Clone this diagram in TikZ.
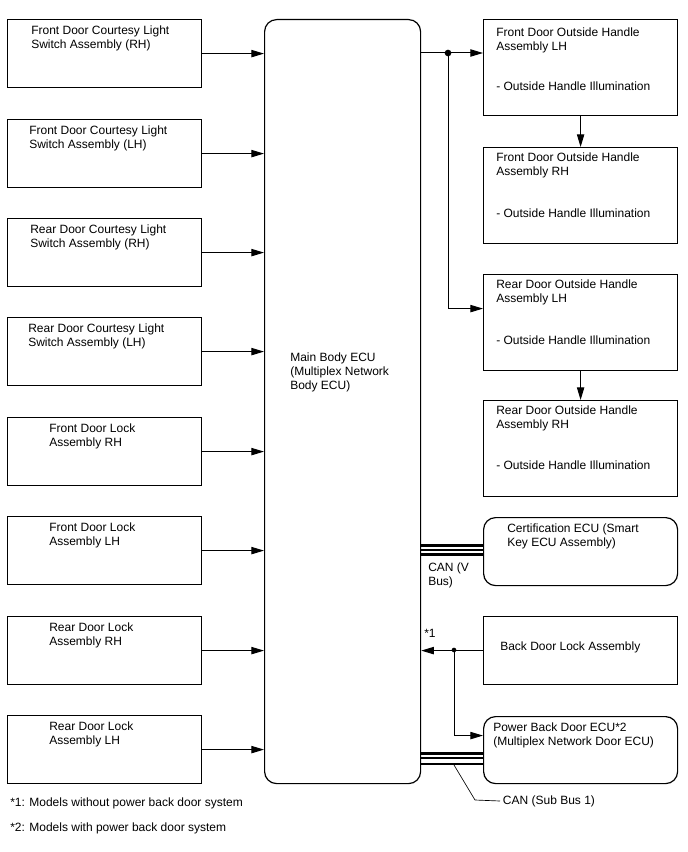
\documentclass[tikz,border=0pt]{standalone}
\usepackage{fontspec}
\setmainfont{Liberation Sans}
\usetikzlibrary{arrows.meta,positioning}
\begin{document}
\begin{tikzpicture}[x=0.75pt,y=-0.75pt,
    box/.style={draw,line width=0.9pt,anchor=north west,inner sep=0pt,minimum width=145.5pt,minimum height=51pt},
    rbox/.style={box,minimum height=72pt},
    rndbox/.style={box,rounded corners=9pt},
    txt/.style={anchor=north west,inner sep=0pt,align=left,font=\fontsize{9}{10.5}\selectfont},
    arr/.style={-{Triangle[length=9.5pt,width=5.5pt]},line width=0.75pt},
    bus/.style={line width=1.6pt},
    dot/.style={circle,fill,inner sep=0pt,minimum size=#1}]
    \useasboundingbox (0,0) rectangle (688,852);
    % main ECU
    \node [box,rounded corners=9pt,minimum width=117pt,minimum height=573pt] (main) at (264,19) {};
    \node [txt] (maintxt) at (290,353) {Main Body ECU\\(Multiplex Network\\Body ECU)};
    % switches and locks on the left
    \foreach \i/\yy/\dx/\txt in {1/19/24/{Front Door Courtesy Light\\Switch Assembly (RH)},
        2/119/22/{Front Door Courtesy Light\\Switch Assembly (LH)},
        3/218/23/{Rear Door Courtesy Light\\Switch Assembly (RH)},
        4/317/21/{Rear Door Courtesy Light\\Switch Assembly (LH)},
        5/417/42/{Front Door Lock\\Assembly RH},
        6/516/42/{Front Door Lock\\Assembly LH},
        7/616/42/{Rear Door Lock\\Assembly RH},
        8/715/42/{Rear Door Lock\\Assembly LH}} {
        \node [box] (l\i) at (7,\yy) {};
        \node [txt] (lt\i) at ([shift={(\dx,7)}]l\i.north west) {\txt};
        \draw [arr] (l\i.east) -- (l\i.east -| main.west);
    }
    % outside handles
    \node [rbox] (r1) at (483,19) {};
    \node [txt] (rt1) at (496,28) {Front Door Outside Handle\\Assembly LH\\[19.5pt]- Outside Handle Illumination};
    \node [rbox] (r2) at (483,147) {};
    \node [txt] (rt2) at (496,153) {Front Door Outside Handle\\Assembly RH\\[21pt]- Outside Handle Illumination};
    \node [rbox] (r3) at (483,274) {};
    \node [txt] (rt3) at (496,280) {Rear Door Outside Handle\\Assembly LH\\[21pt]- Outside Handle Illumination};
    \node [rbox] (r4) at (483,400) {};
    \node [txt] (rt4) at (496,406) {Rear Door Outside Handle\\Assembly RH\\[20pt]- Outside Handle Illumination};
    \node [dot=5pt] (j1) at (448,53) {};
    \draw [arr] (main.east |- j1) -- (r1.west |- j1);
    \draw [arr] (j1.center) |- ([yshift=10.5pt]r3.west);
    \draw [arr] (r1.south) -- (r2.north);
    \draw [arr] (r3.south) -- (r4.north);
    % certification ECU on CAN (V Bus)
    \node [rndbox] (cert) at (483,517) {};
    \node [txt] (certtxt) at (507,524) {Certification ECU (Smart\\Key ECU Assembly)};
    \foreach \yy in {545.5,549.8,554.5}
        \draw [bus] (main.east |- 0,\yy) -- (cert.west |- 0,\yy);
    \node [txt] (canv) at (428,563) {CAN (V\\Bus)};
    % back door
    \node [box] (bdl) at (483,616) {};
    \node [txt] (bdltxt) at (500,642) {Back Door Lock Assembly};
    \node [txt] (n1) at (424,629) {*1};
    \node [dot=3.5pt] (j2) at (454,650) {};
    \draw [arr] (bdl.west) -- (main.east |- bdl.west);
    \node [rndbox,minimum height=50.25pt] (pbd) at (483,716) {};
    \node [txt] (pbdtxt) at (493,723) {Power Back Door ECU*2\\(Multiplex Network Door ECU)};
    \draw [arr] (j2.center) |- ([yshift=10.9pt]pbd.west);
    \foreach \yy in {753.5,758.2,764}
        \draw [bus] (main.east |- 0,\yy) -- (pbd.west |- 0,\yy);
    \node [txt,anchor=west,inner sep=2pt] (canb) at (500,801) {CAN (Sub Bus 1)};
    \coordinate (lead) at (454,765);
    \draw [line width=0.5pt] (lead) -- (475,800) -- (canb.west);
    % notes
    \node [txt] (note1) at (10,798) {*1: Models without power back door system};
    \node [txt] (note2) at (10,823) {*2: Models with power back door system};
\end{tikzpicture}
\end{document}
